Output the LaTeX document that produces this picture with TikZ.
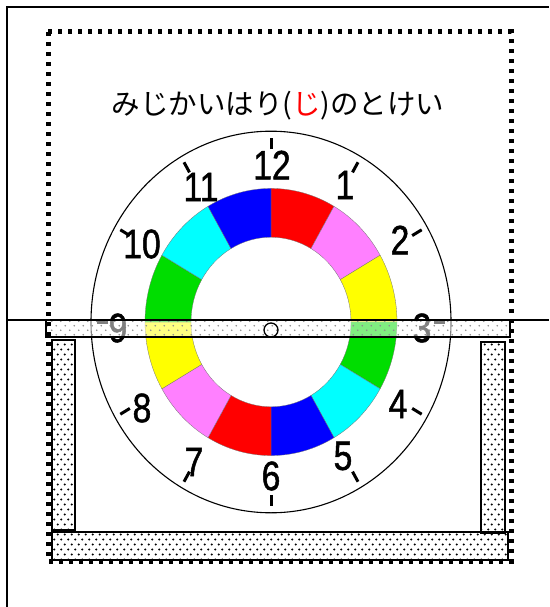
\documentclass[tikz,border=0pt]{standalone}
\usepackage{fontspec}
\setmainfont{Liberation Sans}
\newfontfamily\jpfont{Noto Sans CJK JP}
\newfontfamily\numfont[FakeStretch=0.82, FakeBold=1.2]{Liberation Sans}
\usetikzlibrary{patterns}
\pgfdeclarepatternformonly{densedots}{\pgfqpoint{-1pt}{-1pt}}{\pgfqpoint{8pt}{11pt}}{\pgfqpoint{7pt}{10pt}}{%
  \pgfpathcircle{\pgfqpoint{1.75pt}{2.5pt}}{1.05pt}%
  \pgfpathcircle{\pgfqpoint{5.25pt}{7.5pt}}{1.05pt}%
  \pgfusepath{fill}}
\pgfdeclarepatternformonly{sparsedots}{\pgfqpoint{-1pt}{-1pt}}{\pgfqpoint{10pt}{10pt}}{\pgfqpoint{9pt}{9pt}}{%
  \pgfpathcircle{\pgfqpoint{2.25pt}{2.25pt}}{0.9pt}%
  \pgfpathcircle{\pgfqpoint{6.75pt}{6.75pt}}{0.9pt}%
  \pgfusepath{fill}}
\definecolor{cred}{HTML}{FF0000}
\definecolor{cpink}{HTML}{FF80FF}
\definecolor{cyellow}{HTML}{FFFF00}
\definecolor{cgreen}{HTML}{00DD00}
\definecolor{ccyan}{HTML}{00FFFF}
\definecolor{cblue}{HTML}{0000FF}
\tikzset{
  num/.style={font=\numfont\fontsize{41}{42}\selectfont, inner sep=0pt},
  framebar/.style={line width=1.8pt, pattern=densedots, pattern color=black},
  hourtick/.style={line width=3pt},
}
\begin{document}
\begin{tikzpicture}[x=1pt,y=-1pt]
\useasboundingbox (0,0) rectangle (549,607);
\fill[white] (0,0) rectangle (549,607);
% frame lines
\draw[line width=1.6pt] (7,607) -- (7,7) -- (549,7);
% title
\node[font=\jpfont\fontsize{28.5}{34}\selectfont, inner sep=0pt] (title) at (278,106) {みじかいはり(\textcolor{red}{じ})のとけい};
% clock
\begin{scope}[shift={(271,322)}, yscale=-1.06]
  \foreach \i/\c in {0/cred,1/cpink,2/cyellow,3/cgreen,4/ccyan,5/cblue,6/cred,7/cpink,8/cyellow,9/cgreen,10/ccyan,11/cblue}{
    \pgfmathsetmacro\aone{90-30*\i}
    \pgfmathsetmacro\atwo{60-30*\i}
    \filldraw[fill=\c, draw=black!55, line width=0.3pt] (\aone:80) -- (\aone:126)
      arc[start angle=\aone, end angle=\atwo, radius=126] -- (\atwo:80)
      arc[start angle=\atwo, end angle=\aone, radius=80] -- cycle;
  }
  \draw[line width=1.1pt] (0,0) circle[radius=180];
  \foreach \a in {0,30,...,330} \draw[hourtick] (\a:163) -- (\a:174);
\end{scope}
% numbers
\node[num] (n12) at (272,165) {12};
\node[num] (n1) at (345,185) {1};
\node[num] (n2) at (400,240) {2};
\node[num] (n3) at (422,328) {3};
\node[num] (n4) at (398,404) {4};
\node[num] (n5) at (343,456) {5};
\node[num] (n6) at (271,476) {6};
\node[num] (n7) at (194,462) {7};
\node[num] (n8) at (142,408) {8};
\node[num] (n9) at (118,328) {9};
\node[num] (n10) at (142,244) {10};
\node[num] (n11) at (201,187) {11};
% translucent horizontal bar
\path[fill=white, fill opacity=0.5] (46,320) rectangle (510,337);
\path[pattern=sparsedots, pattern color=black!45] (46,320) rectangle (510,337);
\draw[line width=2pt] (46,320) rectangle (510,337);
\draw[line width=1.6pt] (7,320) -- (549,320);
\node[circle, draw, line width=1.3pt, minimum size=14pt, inner sep=0pt] (pivot) at (271,330) {};
% frame bars
\draw[framebar] (52,340) rectangle (75,530);
\draw[framebar] (481,342) rectangle (505,533);
\draw[framebar] (52,532) rectangle (508,560);
% dotted cut line
\draw[line width=5pt, dash pattern=on 4pt off 6pt] (48,32) rectangle (511,561);
\end{tikzpicture}
\end{document}
